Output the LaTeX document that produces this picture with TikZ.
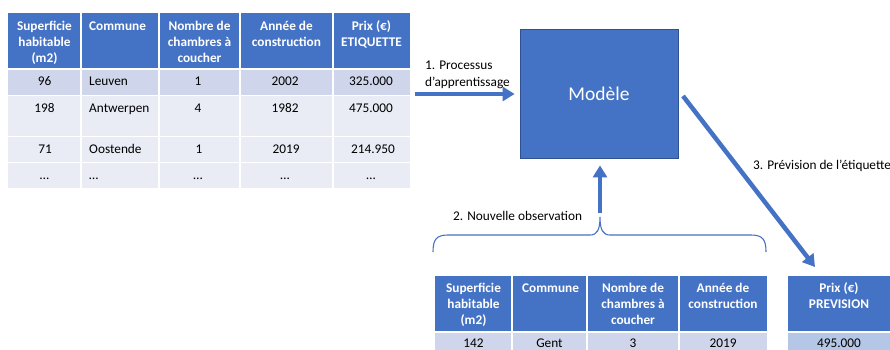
\documentclass[tikz,border=0pt]{standalone}
\usepackage{fontspec}
\setmainfont{Carlito}
\usetikzlibrary{arrows.meta}
\definecolor{hdr}{HTML}{4472C4}
\definecolor{hdrline}{HTML}{2F528F}
\definecolor{rowa}{HTML}{CFD5EA}
\definecolor{rowb}{HTML}{E9EBF5}
\definecolor{predc}{HTML}{B4C7E7}
\tikzset{
  hd/.style={anchor=north, inner sep=0pt, align=center, text=white, font=\fontsize{13.3}{16.4}\selectfont\bfseries},
  hdl/.style={anchor=north west, inner sep=0pt, align=left, text=white, font=\fontsize{13.3}{16.4}\selectfont\bfseries},
  dc/.style={anchor=base, inner sep=0pt, font=\fontsize{13.3}{16.4}\selectfont},
  dl/.style={anchor=base west, inner sep=0pt, font=\fontsize{13.3}{16.4}\selectfont},
  lbl/.style={inner sep=0pt, align=left, font=\fontsize{13.3}{16.4}\selectfont},
  sep/.style={white, line width=1.2pt},
  arr/.style={hdr, line width=4.5pt, -{Triangle[length=12pt,width=14pt]}},
  modelbox/.style={fill=hdr, draw=hdrline, line width=0.8pt, minimum width=158pt, minimum height=129pt, inner sep=0pt, text=white, font=\fontsize{19.5}{23}\selectfont}
}
\begin{document}
\begin{tikzpicture}[x=1pt,y=-1pt]
\useasboundingbox (0,0) rectangle (890,350);

% ---- training table ----
\fill[hdr] (8,13) rectangle (410,68);
\fill[rowa] (8,70) rectangle (410,95);
\fill[rowb] (8,95) rectangle (410,188);
\foreach \y in {95.5,136.5,162.5} \draw[sep] (8,\y) -- (410,\y);
\foreach \x in {81,159,240,333} \draw[sep] (\x,13) -- (\x,188);

\node[hd] (t11) at (44.5,20.5) {Superficie\\habitable\\(m2)};
\node[hdl] (t12) at (89,22) {Commune};
\node[hd] (t13) at (199.5,20.5) {Nombre de\\chambres à\\coucher};
\node[hd] (t14) at (286.5,20.5) {Année de\\construction};
\node[hd] (t15) at (371.5,20.5) {Prix (€)\\ETIQUETTE};

\node[dc] (r11) at (44.5,86) {96};
\node[dl] (r12) at (89,86) {Leuven};
\node[dc] (r13) at (198,86) {1};
\node[dc] (r14) at (285,86) {2002};
\node[dc] (r15) at (371,86) {325.000};

\node[dc] (r21) at (44.5,113) {198};
\node[dl] (r22) at (89,113) {Antwerpen};
\node[dc] (r23) at (198,113) {4};
\node[dc] (r24) at (285,113) {1982};
\node[dc] (r25) at (371,113) {475.000};

\node[dc] (r31) at (45,153) {71};
\node[dl] (r32) at (89,153) {Oostende};
\node[dc] (r33) at (199,153) {1};
\node[dc] (r34) at (286,153) {2019};
\node[dc] (r35) at (373,153) {214.950};

\node[dc] (r41) at (44.5,179) {…};
\node[dl] (r42) at (89,179) {…};
\node[dc] (r43) at (198,179) {…};
\node[dc] (r44) at (285,179) {…};
\node[dc] (r45) at (371,179) {…};

% ---- model ----
\node[modelbox] (model) at (599,93.5) {Modèle};

% ---- arrow 1 ----
\coordinate (a1s) at (415,94);
\draw[arr, shorten >=5pt] (a1s) -- (model.west |- a1s);
\node[lbl, anchor=north west] (l1) at (425,61) {1. Processus\\d’apprentissage};

% ---- arrow 3 ----
\coordinate (a3s) at (683,96);
\coordinate (a3e) at (815,267);
\draw[arr] (a3s) -- (a3e);
\node[lbl, anchor=base west] (l3) at (753,169) {3. Prévision de l’étiquette};

% ---- brace + arrow 2 ----
\coordinate (bl) at (433,252);
\coordinate (br) at (766,252);
\coordinate (btip) at (600,217);
\draw[hdr, line width=1.1pt] (bl) .. controls (433,240) and (436,235) .. (448,235)
  -- (590,235) .. controls (597,235) and (600,230) .. (btip)
  .. controls (600,230) and (603,235) .. (610,235) -- (751,235)
  .. controls (763,235) and (766,240) .. (br);
\coordinate (a2s) at (600,213);
\draw[arr, shorten >=7pt] (a2s) -- (model.south -| a2s);
\node[lbl, anchor=base west] (l2) at (453,220) {2. Nouvelle observation};

% ---- new observation table ----
\fill[hdr] (435,276) rectangle (767,331);
\fill[rowa] (435,333) rectangle (767,352);
\foreach \x in {512,587,679} \draw[sep] (\x,276) -- (\x,352);

\node[hd] (b11) at (473.5,282.5) {Superficie\\habitable\\(m2)};
\node[hdl] (b12) at (522,284) {Commune};
\node[hd] (b13) at (633,282.5) {Nombre de\\chambres à\\coucher};
\node[hd] (b14) at (723,282.5) {Année de\\construction};

\node[dc] (b21) at (473.5,347) {142};
\node[dc] (b22) at (549.5,347) {Gent};
\node[dc] (b23) at (633,347) {3};
\node[dc] (b24) at (723,347) {2019};

% ---- prediction ----
\fill[hdr] (788,276) rectangle (892,331);
\fill[predc] (788,333) rectangle (892,352);
\node[hd] (p1) at (839,282.5) {Prix (€)\\PREVISION};
\node[dc] (p2) at (839,347) {495.000};
\end{tikzpicture}
\end{document}
